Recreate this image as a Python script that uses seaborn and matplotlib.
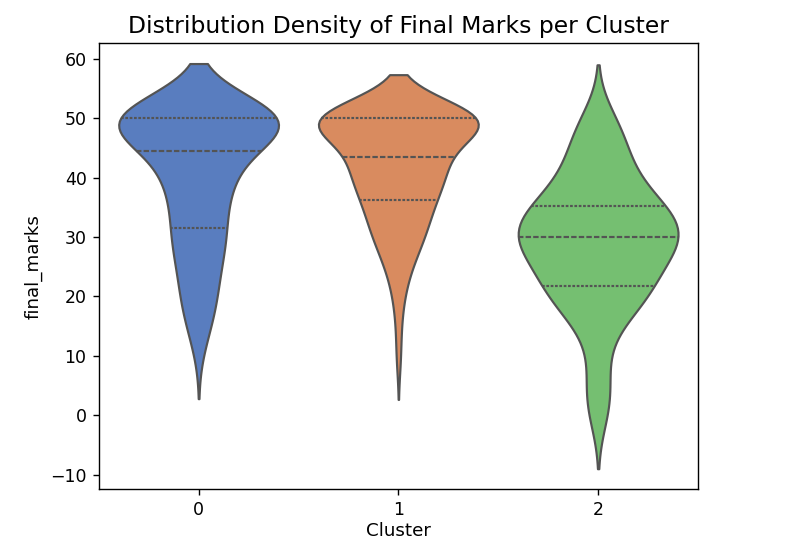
import numpy as np
import pandas as pd
import matplotlib
matplotlib.use("Agg")
import matplotlib.pyplot as plt
import seaborn as sns

clusters = ["0", "1", "2"]

# final marks per cluster, read back from the violins:
# a mark and how many students in the cluster got it
c0_marks = [12, 14, 16, 17, 18, 19, 20, 21, 22, 23, 24, 25, 26, 27, 28, 29, 30, 31,
            33, 34, 35, 36, 37, 38, 39, 40, 41, 42, 43, 44,
            45, 46, 47, 48, 49, 50]
c0_counts = [1, 1, 1, 1, 1, 1, 1, 1, 1, 1, 1, 1, 1, 1, 1, 2, 2, 3,
             1, 1, 2, 1, 1, 2, 2, 2, 2, 2, 2, 3,
             1, 1, 2, 2, 3, 34]

c1_marks = [10, 16, 20, 22, 24, 25, 26, 27, 28, 29, 30, 31, 32, 33, 34, 35,
            36, 37, 38, 39, 40, 41, 42, 43,
            44, 45, 46, 47, 48, 49, 50]
c1_counts = [1, 1, 1, 1, 1, 1, 1, 1, 1, 2, 2, 2, 2, 2, 2, 2,
             2, 3, 3, 3, 3, 3, 3, 6,
             2, 2, 3, 2, 2, 2, 36]

c2_marks = [0, 3, 6, 11, 15, 17, 18, 19, 20, 21,
            22, 23, 24, 25, 26, 27, 28, 29, 30,
            31, 32, 33, 34, 35,
            36, 37, 38, 39, 40, 41, 43, 44, 46, 47, 49, 50]
c2_counts = [2, 2, 2, 2, 2, 2, 2, 2, 2, 6,
             2, 2, 2, 2, 2, 4, 4, 4, 6,
             4, 4, 4, 4, 4,
             2, 2, 2, 2, 2, 2, 2, 2, 2, 2, 2, 2]

frames = []
for name, marks, counts in zip(clusters,
                               [c0_marks, c1_marks, c2_marks],
                               [c0_counts, c1_counts, c2_counts]):
    frames.append(pd.DataFrame({"Cluster": name,
                                "final_marks": np.repeat(marks, counts)}))
df = pd.concat(frames, ignore_index=True)

fig = plt.figure(figsize=(6.4, 4.312), dpi=125)
ax = fig.add_axes([0.1234, 0.0928, 0.7491, 0.8269])
sns.violinplot(data=df, x="Cluster", y="final_marks", hue="Cluster",
               order=clusters, hue_order=clusters, palette="muted",
               inner="quart", density_norm="width", legend=False, ax=ax)
ax.set_title("Distribution Density of Final Marks per Cluster", fontsize=13.5)
ax.set_xlabel("Cluster", fontsize=10.5, labelpad=1.5)
ax.set_ylabel("final_marks", fontsize=10.5)

fig.savefig("out.png", dpi=125)
